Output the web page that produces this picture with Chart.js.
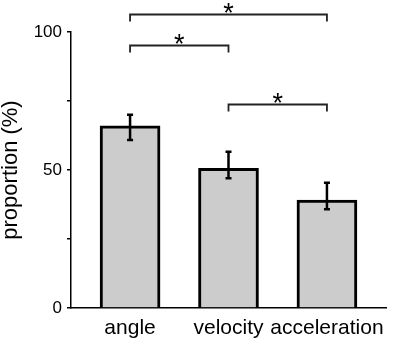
<!DOCTYPE html>
<html>
<head>
<meta charset="utf-8">
<script src="https://cdn.jsdelivr.net/npm/chart.js@4/dist/chart.umd.min.js"></script>
<style>
  html, body { margin: 0; padding: 0; background: #fff; }
  #wrap { width: 397px; height: 343px; }
</style>
</head>
<body>
<div id="wrap"><canvas id="chart"></canvas></div>
<script>
// data
const categories = ['angle', 'velocity', 'acceleration'];
const means = [66, 50.6, 39.1];
const errLow = [60.9, 47, 35.8];
const errHigh = [70, 56.6, 45.4];
const yTickLabels = [0, 50, 100];

// significance brackets: from category, to category, height (in %)
const sigFrom = [0, 0, 1];
const sigTo = [2, 1, 2];
const sigLevel = [106.5, 95.3, 73.9];
const sigText = ['*', '*', '*'];

Chart.defaults.font.family = "'Liberation Sans', Arial, sans-serif";
Chart.defaults.color = '#000';

const errorBars = {
  id: 'errorBars',
  afterDatasetsDraw(chart) {
    const { ctx, scales: { x, y } } = chart;
    ctx.save();
    ctx.strokeStyle = '#000';
    ctx.lineWidth = 2.5;
    means.forEach((m, i) => {
      const px = x.getPixelForValue(i + 1);
      const top = y.getPixelForValue(errHigh[i]);
      const bot = y.getPixelForValue(errLow[i]);
      ctx.beginPath();
      ctx.moveTo(px, top);
      ctx.lineTo(px, bot);
      ctx.moveTo(px - 3, top);
      ctx.lineTo(px + 3, top);
      ctx.moveTo(px - 3, bot);
      ctx.lineTo(px + 3, bot);
      ctx.stroke();
    });
    ctx.restore();
  }
};

const brackets = {
  id: 'brackets',
  afterDraw(chart) {
    const { ctx, scales: { x, y } } = chart;
    ctx.save();
    ctx.strokeStyle = '#222';
    ctx.lineWidth = 1.8;
    ctx.fillStyle = '#000';
    ctx.font = "27px 'Liberation Sans', Arial, sans-serif";
    ctx.textAlign = 'center';
    ctx.textBaseline = 'alphabetic';
    sigFrom.forEach((f, i) => {
      const x1 = x.getPixelForValue(f + 1);
      const x2 = x.getPixelForValue(sigTo[i] + 1);
      const py = Math.round(y.getPixelForValue(sigLevel[i])) + 0.5;
      ctx.beginPath();
      ctx.moveTo(x1, py + 7);
      ctx.lineTo(x1, py);
      ctx.lineTo(x2, py);
      ctx.lineTo(x2, py + 7);
      ctx.stroke();
      const m = ctx.measureText(sigText[i]);
      const mid = (m.actualBoundingBoxAscent - m.actualBoundingBoxDescent) / 2;
      ctx.fillText(sigText[i], (x1 + x2) / 2, py - 7 + mid);
    });
    ctx.restore();
  }
};

new Chart(document.getElementById('chart'), {
  type: 'bar',
  data: {
    datasets: [{
      data: means.map((v, i) => ({ x: i + 1, y: v })),
      backgroundColor: '#cccccc',
      borderColor: '#000',
      borderWidth: 3,
      barThickness: 60
    }]
  },
  options: {
    responsive: true,
    maintainAspectRatio: false,
    animation: false,
    events: [],
    layout: { padding: { top: 32, right: 11, left: 0, bottom: 0 } },
    plugins: { legend: { display: false }, tooltip: { enabled: false } },
    scales: {
      x: {
        type: 'linear',
        min: 0.4,
        max: 3.6,
        offset: false,
        afterBuildTicks(scale) {
          scale.ticks = categories.map((c, i) => ({ value: i + 1 }));
        },
        afterFit(scale) { scale.height = 35; },
        ticks: {
          font: { size: 21 },
          padding: 8,
          maxRotation: 0,
          autoSkip: false,
          callback: (v) => categories[v - 1]
        },
        grid: { display: false, drawTicks: false },
        border: { display: true, color: '#000', width: 1.5 }
      },
      y: {
        min: 0,
        max: 100,
        afterFit(scale) { scale.width = 71; },
        ticks: {
          stepSize: 25,
          font: { size: 17 },
          padding: 5,
          callback: (v) => yTickLabels.includes(v) ? v : ''
        },
        grid: { drawOnChartArea: false, tickLength: 4, color: '#000', lineWidth: 1.5 },
        border: { display: true, color: '#000', width: 1.5 },
        title: {
          display: true,
          text: 'proportion (%)',
          font: { size: 22, lineHeight: 1 },
          padding: 0
        }
      }
    }
  },
  plugins: [errorBars, brackets]
});
</script>
</body>
</html>
